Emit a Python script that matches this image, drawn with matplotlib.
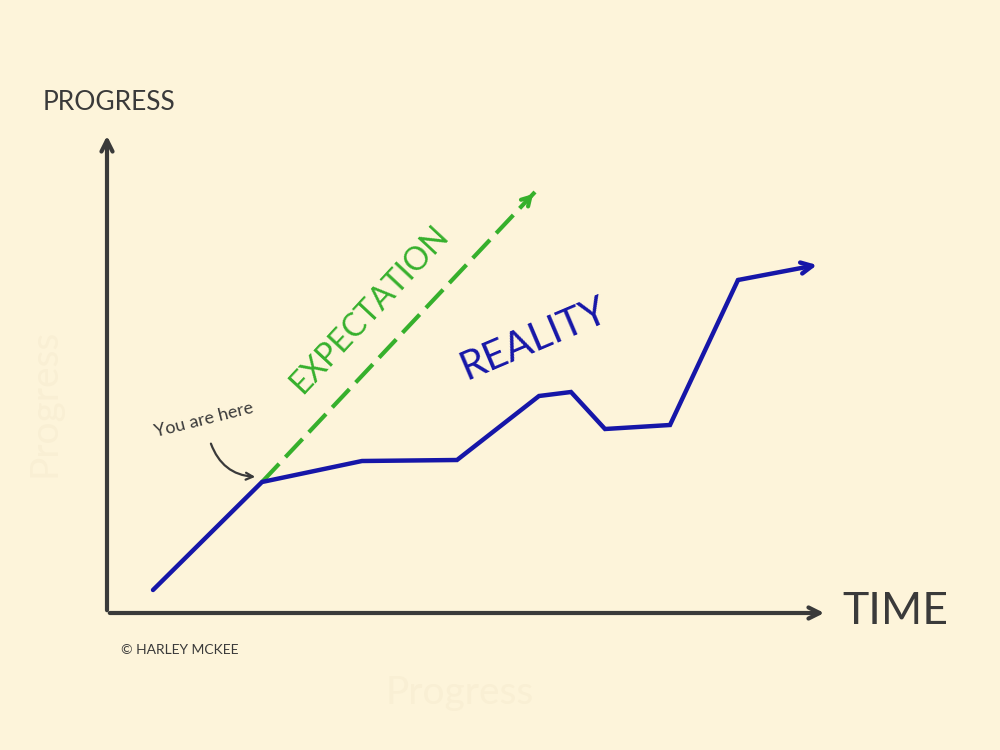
import matplotlib
matplotlib.use('Agg')
import matplotlib.pyplot as plt

# data (time / progress units, origin at the axes corner)
reality_t = [46, 155, 255, 350, 432, 464, 498, 563, 631, 710]
reality_p = [23, 131, 152, 153, 217, 221, 184, 188, 333, 348]
expect_t = [155, 428]
expect_p = [131, 421]
here_t, here_p = 155, 131

bg = '#fdf4da'
ink = '#3a3a3a'
blue = '#1616a8'
green = '#36b02c'

plt.rc('font', family='Lato')

fig = plt.figure(figsize=(10, 7.5), dpi=100, facecolor=bg)
ax = fig.add_axes([0, 0, 1, 1])
ax.set_facecolor(bg)
ax.set_xlim(-107, 893)
ax.set_ylim(-137, 613)
ax.axis('off')

# faint watermarks
ax.text(-62, 210, 'Progress', rotation=90, fontsize=28, color='#f9efd4',
        ha='center', va='center', zorder=0)
ax.text(353, -80, 'Progress', fontsize=28, color='#f9efd4',
        ha='center', va='center', zorder=0)

# axes drawn as arrows
ax.annotate('', xy=(0, 480), xytext=(0, 0),
            arrowprops=dict(arrowstyle='->,head_length=0.8,head_width=0.4',
                            color=ink, lw=3, capstyle='round'))
ax.annotate('', xy=(720, 0), xytext=(0, 0),
            arrowprops=dict(arrowstyle='->,head_length=0.8,head_width=0.4',
                            color=ink, lw=3, capstyle='round'))

ax.text(-64, 511, 'PROGRESS', fontsize=19, color=ink, ha='left', va='center')
ax.text(735, 2, 'TIME', fontsize=32, color=ink, ha='left', va='center')

# expectation
ax.plot(expect_t, expect_p, color=green, lw=3, ls=(0, (6, 2.2)), zorder=3)
ax.annotate('', xy=(expect_t[1], expect_p[1]),
            xytext=(expect_t[1] - 10, expect_p[1] - 10.6),
            arrowprops=dict(arrowstyle='->,head_length=0.6,head_width=0.35',
                            color=green, lw=3))
ax.text(262, 303, 'EXPECTATION', fontsize=23, color=green, rotation=47,
        ha='center', va='center')

# reality
ax.plot(reality_t[:-1], reality_p[:-1], color=blue, lw=3.2,
        solid_joinstyle='miter', solid_capstyle='round', zorder=4)
ax.annotate('', xy=(reality_t[-1], reality_p[-1]),
            xytext=(reality_t[-2], reality_p[-2]),
            arrowprops=dict(arrowstyle='->,head_length=0.8,head_width=0.4',
                            color=blue, lw=3.2, shrinkA=0, shrinkB=0))
ax.text(427, 274, 'REALITY', fontsize=29, color=blue, rotation=23,
        ha='center', va='center')

# you are here
ax.text(97, 193, 'You are here', fontsize=13, color=ink, rotation=14,
        ha='center', va='center')
ax.annotate('', xy=(here_t - 4, here_p + 5), xytext=(103, 172),
            arrowprops=dict(arrowstyle='->,head_length=0.5,head_width=0.25',
                            color=ink, lw=1.6,
                            connectionstyle='arc3,rad=0.35'))

ax.text(14, -37, '\u00a9 HARLEY MCKEE', fontsize=10, color=ink,
        ha='left', va='center')

fig.savefig('out.png', dpi=100, facecolor=bg)
